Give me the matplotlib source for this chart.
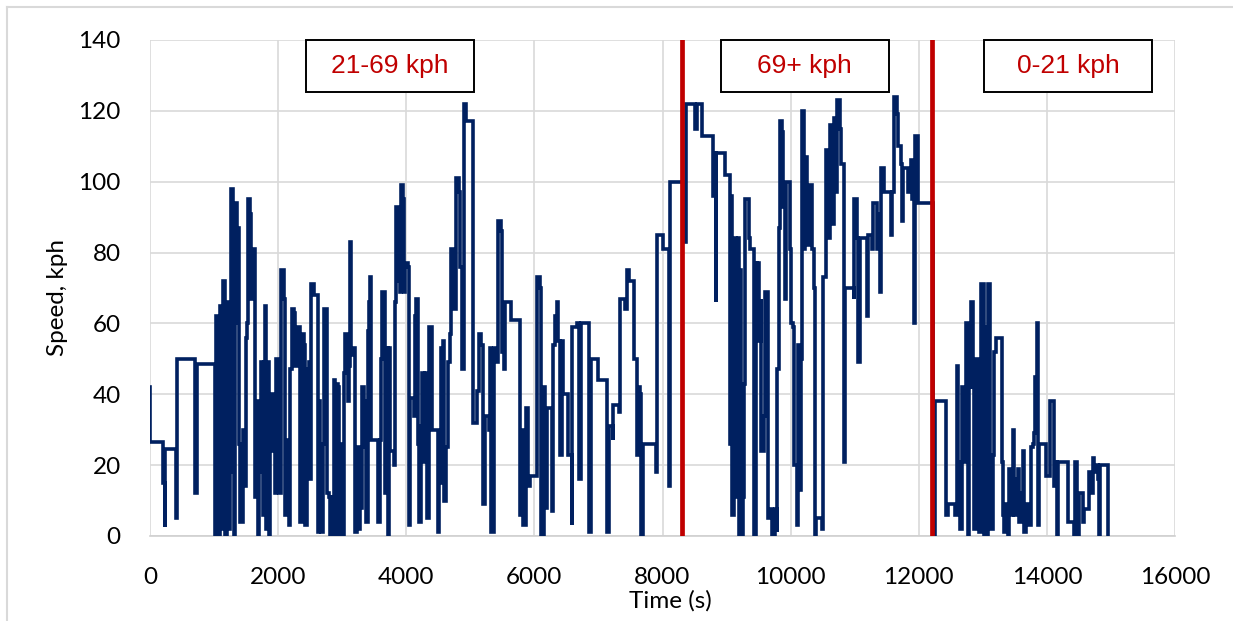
import matplotlib

matplotlib.use("Agg")
import matplotlib.pyplot as plt
from matplotlib.lines import Line2D
from matplotlib.patches import Rectangle

# speed trace, seconds / kph
time_s = [
    0, 0, 200, 205, 230, 235, 240, 405, 410, 420, 705, 710, 735, 1010,
    1012, 1033, 1064, 1090, 1116, 1137, 1168, 1178, 1204, 1230, 1256, 1272, 1293, 1308, 1324, 1350, 1360, 1376, 1386, 1412,
    1438, 1449, 1480, 1490, 1501, 1516, 1532, 1558, 1584, 1605, 1636, 1646, 1672, 1688, 1709, 1740, 1761, 1776, 1802, 1818,
    1844, 1854, 1880, 1906, 1932, 1948, 1958, 1969, 2000, 2021, 2042, 2052, 2078, 2099, 2114, 2130, 2156, 2177, 2192, 2218,
    2250, 2260, 2286, 2296, 2333, 2348, 2374, 2400, 2426, 2452, 2478, 2504, 2520, 2546, 2562, 2608, 2619, 2645, 2660, 2676,
    2697, 2723, 2749, 2764, 2790, 2816, 2842, 2868, 2894, 2920, 2934, 2955, 2970, 2986, 3007, 3022, 3038, 3048, 3074, 3085,
    3100, 3116, 3137, 3152, 3194, 3204, 3230, 3256, 3282, 3308, 3334, 3360, 3376, 3396, 3412, 3438, 3454, 3542, 3558, 3584,
    3605, 3620, 3646, 3662, 3683, 3698, 3714, 3735, 3750, 3776, 3802, 3818, 3828, 3839, 3865, 3880, 3896, 3917, 3943, 3958,
    3984, 4026, 4036, 4062, 4099, 4123, 4140, 4156, 4182, 4203, 4224, 4244, 4270, 4296, 4322, 4348, 4390, 4400, 4478, 4494,
    4515, 4546, 4567, 4593, 4619, 4645, 4671, 4686, 4702, 4738, 4764, 4780, 4816, 4832, 4858, 4878, 4894, 4930, 4998, 5035,
    5050, 5102, 5128, 5165, 5196, 5232, 5269, 5284, 5310, 5321, 5362, 5414, 5430, 5482, 5492, 5529, 5544, 5622, 5633, 5763,
    5778, 5804, 5830, 5872, 5898, 5934, 6012, 6038, 6080, 6101, 6153, 6168, 6194, 6246, 6272, 6298, 6324, 6350, 6376, 6402,
    6428, 6454, 6506, 6522, 6569, 6584, 6595, 6662, 6704, 6725, 6844, 6860, 6881, 6974, 7000, 7130, 7141, 7172, 7224, 7234,
    7312, 7328, 7338, 7390, 7416, 7453, 7484, 7546, 7562, 7598, 7609, 7630, 7650, 7661, 7692, 7884, 7900, 7910, 7988, 8014,
    8092, 8108, 8118, 8260, 8330, 8364, 8494, 8510, 8536, 8608, 8615, 8780, 8796, 8816, 8832, 8840, 8958, 8970, 9045, 9050,
    9066, 9086, 9118, 9154, 9180, 9190, 9206, 9232, 9258, 9274, 9294, 9346, 9362, 9414, 9430, 9456, 9482, 9492, 9502, 9534,
    9544, 9580, 9596, 9638, 9648, 9700, 9716, 9752, 9788, 9794, 9814, 9840, 9866, 9882, 9908, 9920, 9960, 9986, 10012, 10038,
    10054, 10090, 10106, 10116, 10126, 10158, 10178, 10204, 10230, 10262, 10298, 10334, 10366, 10376, 10402, 10480, 10496, 10506, 10542, 10558,
    10584, 10610, 10646, 10678, 10698, 10730, 10766, 10792, 10818, 10834, 10854, 10974, 10990, 10995, 11032, 11058, 11084, 11172, 11188, 11204,
    11256, 11276, 11292, 11344, 11370, 11396, 11412, 11464, 11552, 11568, 11588, 11620, 11656, 11682, 11724, 11734, 11760, 11812, 11828, 11864,
    11880, 11900, 11926, 11942, 11984, 11994, 12150, 12215,
    12255, 12416, 12426, 12452, 12556, 12572, 12592, 12618, 12650, 12670, 12700, 12738, 12764, 12790, 12816, 12846, 12868, 12894, 12920, 12946,
    12972, 13014, 13034, 13066, 13086, 13106, 13128, 13154, 13170, 13206, 13284, 13300, 13310, 13336, 13362, 13388, 13414, 13450, 13466, 13492,
    13518, 13544, 13570, 13596, 13622, 13648, 13674, 13700, 13726, 13752, 13778, 13804, 13820, 13846, 13856, 13882, 13960, 13986, 14038, 14045,
    14090, 14106, 14142, 14158, 14168, 14314, 14324, 14402, 14428, 14444, 14470, 14506, 14542, 14558, 14574, 14636, 14662, 14688, 14714, 14740,
    14766, 14792, 14818, 14834, 14938, 14948,
]
speed_kph = [
    42, 26.5, 26.5, 15, 15, 2.5, 24.5, 24.5, 5, 50, 50, 12, 48.5, 48.5,
    0, 62, 0, 65, 2, 72, 72, 0, 66, 2, 18, 98, 63, 0, 94, 94, 60, 87, 26, 4,
    4, 30, 30, 14, 56, 60, 95, 91, 67, 81, 79, 11, 38, 0, 18, 49, 6, 49, 65, 2,
    49, 0, 24, 40, 40, 27, 12, 50, 50, 12, 32, 75, 75, 67, 6, 27, 15, 3, 47, 64,
    63, 48, 48, 59, 59, 4, 57, 54, 3, 47, 49, 16, 71, 71, 68, 68, 1, 38, 19, 1,
    26, 64, 64, 12, 11, 0, 11, 44, 0, 43, 42, 12, 0, 26, 0, 46, 46, 57, 54, 38,
    48, 83, 51, 53, 53, 1, 25, 2, 8, 42, 25, 38, 4, 58, 66, 73, 27, 27, 4, 27,
    50, 69, 69, 12, 39, 53, 0, 53, 24, 24, 20, 53, 66, 93, 93, 72, 69, 99, 95, 69,
    77, 76, 3, 39, 39, 34, 62, 67, 26, 4, 31, 46, 21, 46, 5, 59, 59, 30, 30, 1,
    15, 53, 55, 10, 25, 49, 49, 57, 81, 64, 64, 101, 97, 76, 76, 47, 122, 117, 117, 32,
    32, 41, 57, 54, 9, 34, 34, 30, 53, 1, 53, 49, 89, 86, 52, 47, 66, 66, 61, 61,
    6, 30, 3, 36, 14, 17, 17, 73, 70, 0, 42, 8, 36, 36, 7, 54, 62, 66, 55, 23,
    55, 40, 40, 23, 23, 3, 59, 60, 16, 60, 60, 1, 50, 50, 44, 44, 1, 31, 27, 37,
    37, 35, 67, 67, 64, 75, 72, 72, 50, 47, 23, 42, 40, 0, 26, 26, 18, 85, 85, 81,
    81, 14, 100, 100, 83, 122, 122, 115, 122, 122, 113, 113, 96, 108, 66, 108, 108, 102, 102, 26,
    96, 6, 84, 11, 84, 0, 75, 0, 11, 43, 95, 84, 81, 81, 0, 77, 62, 77, 55, 67,
    24, 34, 69, 69, 5, 7.5, 0, 7.5, 1, 47, 87, 117, 114, 93, 67, 100, 100, 81, 60, 59,
    20, 20, 3, 54, 13, 50, 120, 81, 107, 82, 99, 81, 70, 0, 5, 5, 2, 73, 73, 109,
    84, 116, 88, 118, 97, 123, 115, 105, 105, 21, 70, 70, 67, 95, 84, 49, 84, 84, 62, 85,
    85, 81, 94, 81, 91, 69, 104, 97, 97, 85, 97, 124, 119, 110, 105, 89, 104, 104, 97, 97,
    106, 95, 60, 113, 109, 94, 94, 0,
    38, 38, 6, 9, 9, 6, 48, 21, 2, 42, 21, 60, 0, 42, 66, 42, 2, 50, 34, 1,
    71, 0, 59, 0, 71, 23, 2, 23, 52, 56, 56, 21, 6, 1, 9, 0, 19, 6, 30, 6,
    16, 19, 4, 12, 24, 1, 9, 9, 3, 25, 26, 29, 45, 60, 3, 26, 26, 17, 17, 38,
    38, 14, 21, 0, 21, 21, 4, 4, 0, 21, 0, 12, 12, 4, 7.5, 7.5, 18, 12, 22, 18,
    20, 16, 0, 20, 20, 0,
]

# speed band boundaries and their labels
band_edges_s = [8300, 12200]
band_labels = ["21-69 kph", "69+ kph", "0-21 kph"]
band_label_centres_s = [3750, 10220, 14330]

x_ticks = list(range(0, 16001, 2000))
y_ticks = list(range(0, 141, 20))

NAVY = "#002060"
RED = "#c00000"
GRID = "#d9d9d9"
TICK_FONT = "Lato"
BOX_FONT = "Liberation Sans"


def main() -> None:
    assert len(time_s) == len(speed_kph)

    fig = plt.figure(figsize=(12.33, 6.21), dpi=100)
    ax = fig.add_axes([150 / 1233, 1 - 536 / 621, 1025 / 1233, 496 / 621])

    ax.plot(
        time_s,
        speed_kph,
        color=NAVY,
        linewidth=2.6,
        drawstyle="steps-post",
        solid_joinstyle="miter",
        zorder=3,
    )

    for edge in band_edges_s:
        ax.axvline(edge, color=RED, linewidth=3.4, zorder=4)

    box_half_width = 1310
    for centre, label in zip(band_label_centres_s, band_labels):
        ax.add_patch(
            Rectangle(
                (centre - box_half_width, 125.3),
                2 * box_half_width,
                14.7,
                facecolor="white",
                edgecolor="black",
                linewidth=1.4,
                zorder=5,
                clip_on=False,
            )
        )
        ax.text(
            centre,
            132.6,
            label,
            color=RED,
            fontsize=19,
            family=BOX_FONT,
            ha="center",
            va="center",
            zorder=6,
        )

    ax.set_xlim(0, 16000)
    ax.set_ylim(0, 140)
    ax.set_xticks(x_ticks)
    ax.set_yticks(y_ticks)
    ax.grid(True, color=GRID, linewidth=1.2, zorder=0)
    ax.set_axisbelow(True)
    for side in ("top", "right", "left"):
        ax.spines[side].set_visible(False)
    ax.spines["bottom"].set_color("#d0d0d0")
    ax.spines["bottom"].set_linewidth(1.2)

    ax.tick_params(axis="both", length=0, labelsize=17.5)
    ax.tick_params(axis="y", pad=21)
    ax.tick_params(axis="x", pad=22)
    for label in ax.get_xticklabels() + ax.get_yticklabels():
        label.set_family(TICK_FONT)

    ax.set_xlabel("Time (s)", fontsize=17.5, family=TICK_FONT)
    ax.set_ylabel("Speed, kph", fontsize=17.5, family=TICK_FONT)
    ax.xaxis.set_label_coords(0.508, -0.109)
    ax.yaxis.set_label_coords(-0.08, 0.48)

    # chart-area border, only the top and left edges show in the frame
    border_x = 6.5 / 1233
    border_y = 1 - 6.5 / 621
    fig.add_artist(Line2D([border_x, border_x], [0, border_y], transform=fig.transFigure, color=GRID, linewidth=1.5))
    fig.add_artist(Line2D([border_x, 1], [border_y, border_y], transform=fig.transFigure, color=GRID, linewidth=1.5))

    fig.savefig("out.png", dpi=100, facecolor="white")
    plt.close(fig)


if __name__ == "__main__":
    main()
